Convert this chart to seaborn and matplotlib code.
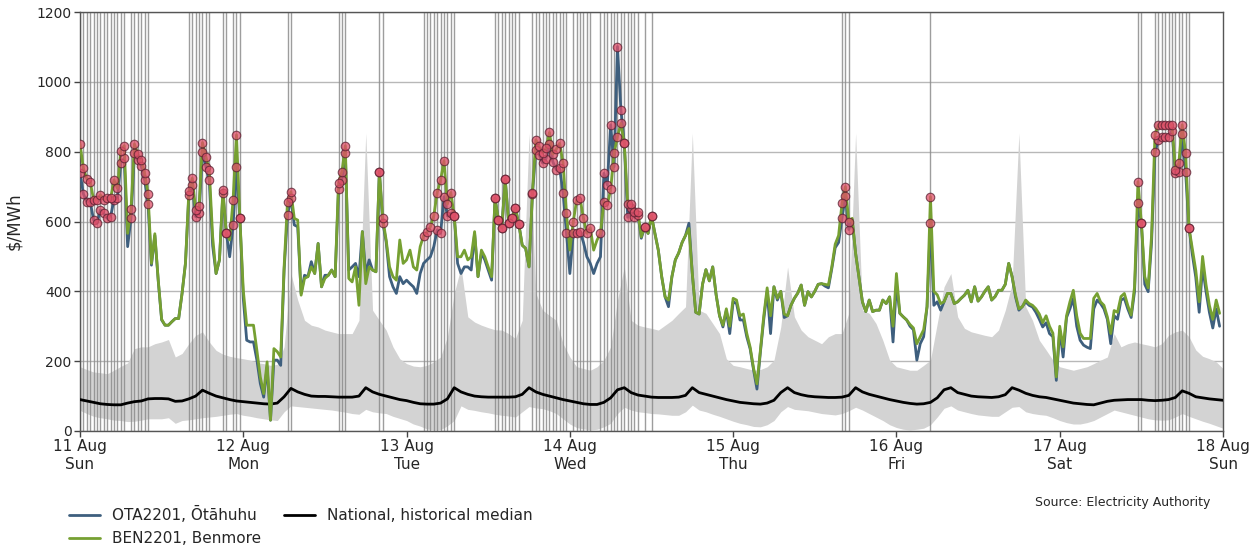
import numpy as np
import pandas as pd
import matplotlib
matplotlib.use("Agg")
import matplotlib.pyplot as plt
import seaborn as sns

# ---------------- data (half-hourly prices, $/MWh) ----------------
BEN = [822, 752, 722, 714, 662, 662, 676, 663, 666, 666, 719, 695, 803, 817, 566, 636,
       822, 793, 776, 738, 680, 480, 565, 432, 320, 303, 303, 313, 322, 322, 394, 480,
       686, 724, 633, 643, 826, 786, 748, 556, 451, 490, 690, 568, 547, 663, 848, 609,
       403, 303, 303, 303, 231, 155, 107, 198, 31, 236, 227, 212, 470, 657, 685, 609,
       604, 389, 437, 442, 470, 451, 537, 413, 437, 446, 461, 442, 711, 743, 817, 437,
       427, 470, 360, 571, 422, 470, 461, 456, 743, 609, 547, 470, 442, 432, 547, 480,
       490, 518, 470, 461, 528, 559, 569, 585, 616, 683, 719, 774, 650, 683, 616, 499,
       499, 518, 490, 499, 571, 442, 518, 499, 470, 442, 666, 604, 582, 721, 597, 609,
       638, 592, 532, 523, 470, 683, 834, 815, 795, 810, 855, 793, 807, 824, 767, 623,
       518, 599, 661, 666, 609, 566, 582, 518, 547, 566, 657, 647, 692, 795, 843, 881,
       824, 650, 650, 628, 628, 556, 585, 566, 616, 566, 518, 442, 384, 375, 442, 490,
       510, 540, 560, 580, 450, 340, 335, 420, 462, 430, 470, 390, 330, 303, 350, 300,
       380, 375, 330, 335, 280, 240, 180, 135, 230, 330, 410, 330, 413, 380, 400, 335,
       330, 360, 380, 395, 418, 360, 399, 384, 400, 420, 422, 420, 418, 470, 535, 560,
       652, 700, 600, 609, 509, 440, 370, 342, 375, 342, 346, 346, 375, 365, 384, 300,
       451, 337, 327, 318, 305, 295, 250, 270, 290, 356, 671, 400, 390, 365, 370, 394,
       394, 365, 370, 380, 389, 403, 370, 413, 372, 384, 400, 413, 375, 385, 403, 403,
       420, 480, 442, 390, 350, 356, 375, 365, 360, 350, 335, 310, 330, 300, 280, 155,
       300, 241, 330, 370, 403, 330, 280, 265, 265, 265, 380, 394, 370, 360, 327, 279,
       345, 340, 385, 394, 360, 332, 413, 714, 597, 442, 410, 560, 848, 877, 877, 877,
       877, 877, 748, 767, 877, 795, 582, 520, 460, 370, 500, 420, 360, 320, 375, 337]

OTA = [740, 679, 657, 657, 604, 595, 633, 623, 609, 614, 663, 666, 767, 781, 528, 611,
       795, 776, 759, 719, 650, 475, 560, 430, 318, 303, 303, 313, 322, 322, 394, 480,
       676, 705, 614, 623, 800, 757, 719, 530, 451, 490, 681, 568, 499, 590, 757, 609,
       380, 260, 255, 255, 203, 136, 97, 183, 31, 203, 203, 188, 461, 619, 666, 590,
       585, 394, 446, 442, 485, 451, 537, 413, 446, 446, 461, 442, 692, 719, 795, 461,
       470, 480, 442, 571, 451, 490, 461, 456, 743, 597, 542, 442, 413, 394, 442, 422,
       432, 422, 413, 394, 451, 480, 490, 499, 528, 576, 566, 671, 616, 623, 616, 480,
       451, 470, 470, 461, 566, 442, 509, 490, 461, 432, 666, 604, 582, 721, 597, 609,
       638, 592, 532, 523, 470, 678, 805, 791, 767, 780, 822, 771, 748, 752, 683, 566,
       451, 566, 566, 571, 540, 499, 480, 451, 480, 499, 738, 705, 877, 757, 1101, 920,
       824, 612, 638, 612, 620, 552, 585, 566, 616, 566, 518, 442, 384, 356, 442, 490,
       510, 540, 560, 595, 450, 340, 335, 420, 462, 430, 470, 390, 330, 298, 345, 279,
       370, 365, 318, 318, 270, 235, 175, 120, 225, 320, 400, 279, 413, 375, 400, 325,
       330, 360, 380, 395, 418, 360, 399, 384, 400, 420, 422, 415, 410, 465, 525, 540,
       609, 674, 577, 604, 509, 440, 370, 342, 375, 342, 346, 346, 375, 365, 384, 255,
       420, 337, 327, 318, 300, 290, 203, 250, 270, 356, 597, 360, 370, 346, 370, 394,
       394, 365, 370, 380, 389, 403, 370, 413, 372, 384, 400, 413, 375, 385, 403, 403,
       420, 480, 442, 384, 346, 356, 370, 360, 355, 340, 320, 298, 310, 279, 270, 145,
       289, 212, 325, 350, 380, 300, 260, 246, 240, 236, 350, 375, 365, 350, 320, 250,
       330, 320, 375, 380, 350, 325, 400, 654, 597, 420, 399, 540, 798, 832, 843, 843,
       843, 860, 738, 743, 851, 743, 582, 505, 440, 340, 470, 400, 340, 295, 350, 300]

# half-hour periods flagged (vertical lines + markers)
FLAGGED = (list(range(0, 14)) + list(range(15, 21)) + list(range(32, 39)) +
           [42, 43, 45, 46, 47, 61, 62, 76, 77, 78, 88, 89] +
           list(range(101, 111)) + list(range(122, 130)) + list(range(133, 144)) +
           list(range(145, 151)) + list(range(153, 165)) + [166, 168] +
           [224, 225, 226, 250, 311, 312] + list(range(316, 327)))

# hourly national historical distribution
MED = [90, 86, 82, 78, 76, 75, 75, 80, 84, 86, 92, 93, 93, 92, 85, 86, 92, 100, 117, 108,
       100, 95, 90, 86, 84, 82, 80, 78, 77, 80, 98, 122, 112, 105, 100, 99,
       99, 98, 97, 97, 97, 100, 124, 112, 105, 100, 95, 90, 87, 82, 78, 77, 77, 80, 92, 124,
       112, 105, 100, 98, 97, 97, 97, 97, 98, 105, 124, 112, 105, 100, 95,
       90, 86, 82, 78, 76, 76, 82, 95, 118, 124, 110, 103, 100, 97, 96, 96, 96, 97, 102, 124,
       110, 105, 100, 95, 90, 86, 82, 80, 78, 77, 80, 88, 110, 124, 110,
       104, 100, 98, 97, 96, 96, 97, 102, 124, 112, 105, 100, 95, 90, 86, 82, 79, 77, 78, 82,
       95, 118, 124, 110, 105, 100, 98, 97, 96, 98, 104, 124, 117, 108, 102,
       98, 96, 92, 88, 84, 80, 78, 76, 75, 80, 85, 88, 89, 90, 90, 90, 88, 87, 88, 90,
       96, 115, 108, 98, 95, 92, 90, 88]

UPPER = [184, 176, 169, 167, 164, 174, 185, 195, 236, 241, 241, 250, 255, 262, 212, 222,
         250, 274, 284, 255, 231, 220, 214, 210, 207, 203, 196, 193, 188, 191, 241, 451,
         375, 317, 303, 298,
         289, 284, 279, 279, 279, 317, 853, 346, 317, 289, 241, 207, 193, 186, 184, 188,
         198, 212, 270, 394, 470, 327, 312, 303, 296, 290, 289, 279, 265, 317, 853, 394,
         346, 331, 317,
         250, 212, 184, 179, 174, 184, 203, 241, 375, 470, 317, 303, 298, 294, 289, 303,
         317, 337, 356, 853, 346, 337, 308, 279, 207, 188, 184, 179, 174, 176, 184, 203,
         298, 470, 327, 289,
         270, 260, 250, 270, 279, 279, 337, 853, 346, 337, 308, 260, 203, 184, 179, 174,
         174, 188, 203, 308, 413, 451, 327, 294, 284, 279, 274, 270, 289, 346, 421, 853,
         356, 317,
         260, 232, 203, 184, 179, 174, 179, 184, 193, 203, 212, 279, 241, 250, 255, 250,
         246, 241, 250, 274, 284, 289, 270, 232, 214, 207, 198, 179]

LOWER = [59, 50, 42, 38, 35, 31, 30, 27, 28, 31, 35, 35, 35, 38, 22, 30, 32, 35, 38, 40,
         42, 45, 48, 50, 45, 42, 38, 35, 32, 30, 55, 72, 70, 68, 66, 64,
         62, 60, 57, 54, 50, 48, 62, 55, 52, 50, 42, 36, 30, 20, 14, 6, 3, 4, 15, 30,
         72, 62, 59, 55, 52, 48, 45, 43, 40, 55, 70, 66, 64, 58, 50,
         35, 20, 10, 6, 3, 5, 12, 22, 50, 68, 60, 55, 53, 50, 49, 47, 45, 45, 55, 74,
         60, 55, 48, 42, 35, 28, 22, 18, 13, 12, 18, 30, 55, 70, 62,
         60, 58, 54, 50, 48, 46, 50, 58, 68, 60, 50, 40, 30, 18, 10, 5, 3, 5, 8, 18,
         40, 65, 72, 60, 55, 50, 46, 44, 42, 42, 55, 68, 70, 55, 50,
         47, 45, 38, 30, 24, 20, 20, 24, 30, 40, 50, 60, 55, 50, 45, 40, 35, 32, 31, 32,
         40, 50, 42, 35, 28, 22, 15, 8]

DAY_LABELS = ["11 Aug\nSun", "12 Aug\nMon", "13 Aug\nTue", "14 Aug\nWed",
              "15 Aug\nThu", "16 Aug\nFri", "17 Aug\nSat", "18 Aug\nSun"]
Y_TICKS = [0, 200, 400, 600, 800, 1000, 1200]

# ---------------- frames ----------------
start = pd.Timestamp("2024-08-11 00:00")
t_half = pd.date_range(start, periods=len(BEN), freq="30min")
t_hour = pd.date_range(start, periods=len(MED), freq="60min")
prices = pd.DataFrame({"time": t_half, "OTA": OTA, "BEN": BEN})
hist = pd.DataFrame({"time": t_hour, "median": MED, "lo": LOWER, "hi": UPPER})
flag = prices.iloc[FLAGGED]

# ---------------- plot ----------------
sns.set_theme(style="white")
plt.rcParams["font.family"] = ["DejaVu Sans"]

fig = plt.figure(figsize=(12.59, 5.49), dpi=100)
ax = fig.add_axes([80 / 1259, 1 - 431 / 549, (1223 - 80) / 1259, (431 - 12) / 549])

ax.fill_between(hist["time"], hist["lo"], hist["hi"], color="#d3d3d3", lw=0, zorder=1)
for t in flag["time"]:
    ax.axvline(t, color="#8c8c8c", lw=1.0, alpha=0.85, zorder=2)

sns.lineplot(data=hist, x="time", y="median", ax=ax, color="black", lw=2.0,
             label="National, historical median", zorder=4)
sns.lineplot(data=prices, x="time", y="OTA", ax=ax, color="#3e5f7e", lw=2.0,
             label="OTA2201, Ōtāhuhu", zorder=5)
sns.lineplot(data=prices, x="time", y="BEN", ax=ax, color="#76a032", lw=2.0,
             label="BEN2201, Benmore", zorder=6)

mk = dict(ax=ax, s=38, color="#e0506a", alpha=0.75, edgecolor="#5a2030",
          linewidth=0.8, zorder=7, legend=False)
sns.scatterplot(data=flag[flag["OTA"] > 550], x="time", y="OTA", **mk)
sns.scatterplot(data=flag[flag["BEN"] > 550], x="time", y="BEN", **mk)

ax.set_xlim(t_half[0], t_half[0] + pd.Timedelta(days=7))
ax.set_ylim(0, 1200)
ax.set_yticks(Y_TICKS)
ax.set_yticklabels([str(v) for v in Y_TICKS], fontsize=10)
day_ticks = pd.date_range(start, periods=8, freq="D")
ax.set_xticks(day_ticks)
ax.set_xticklabels(DAY_LABELS, fontsize=11)
ax.set_xlabel("")
ax.set_ylabel("$/MWh", fontsize=12)
ax.yaxis.set_label_coords(-0.05, 0.5)
ax.yaxis.grid(True, color="#b8b8b8", lw=1.0, zorder=0)
ax.xaxis.grid(False)
ax.set_axisbelow(True)
ax.tick_params(axis="both", which="both", length=4, width=1, color="#444444",
               direction="out", bottom=True, left=True, pad=2)
for sp in ax.spines.values():
    sp.set_color("#555555")
    sp.set_linewidth(1.0)

h, l = ax.get_legend_handles_labels()
order = [l.index("OTA2201, Ōtāhuhu"), l.index("BEN2201, Benmore"),
         l.index("National, historical median")]
ax.get_legend().remove()
fig.legend([h[i] for i in order], [l[i] for i in order], loc="upper left",
           bbox_to_anchor=(0.044, 0.1025), ncol=2, frameon=False, fontsize=11,
           handlelength=2.0, columnspacing=1.5, labelspacing=0.5)
fig.text(0.961, 0.084, "Source: Electricity Authority", ha="right", va="center",
         fontsize=9)

fig.savefig("out.png", dpi=100)
